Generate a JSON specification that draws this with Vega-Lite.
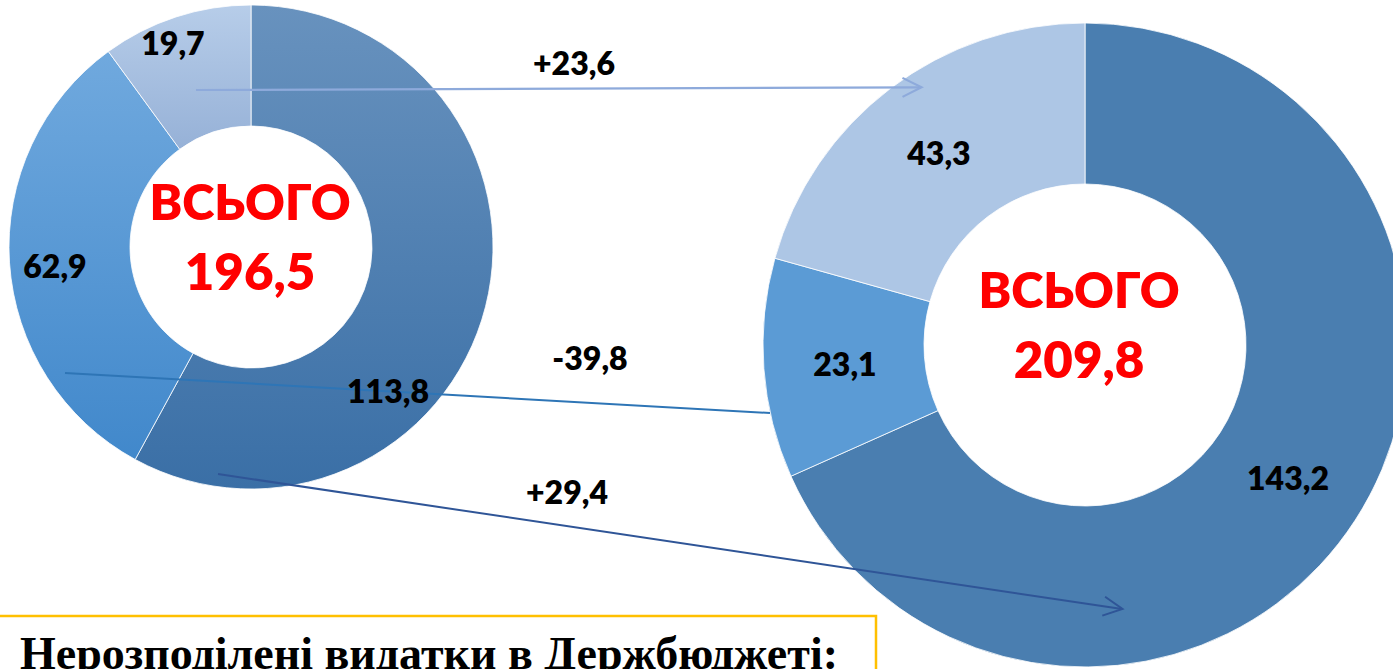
{
  "$schema": "https://vega.github.io/schema/vega-lite/v6.json",
  "width": 1393,
  "height": 669,
  "autosize": {"type": "none"},
  "padding": 0,
  "background": "white",
  "config": {
    "view": {"stroke": null},
    "locale": {"number": {"decimal": ",", "thousands": " ", "grouping": [3], "currency": ["", ""], "minus": "-"}}
  },
  "datasets": {
    "parts": [
      {"period": "before", "part": "A", "value": 113.8},
      {"period": "before", "part": "B", "value": 62.9},
      {"period": "before", "part": "C", "value": 19.7},
      {"period": "after", "part": "A", "value": 143.2},
      {"period": "after", "part": "B", "value": 23.1},
      {"period": "after", "part": "C", "value": 43.3}
    ],
    "totals": [
      {"period": "before", "total": 196.5},
      {"period": "after", "total": 209.8}
    ],
    "changes": [
      {"part": "C", "change": 23.6},
      {"part": "B", "change": -39.8},
      {"part": "A", "change": 29.4}
    ],
    "note": [{"text": "Нерозподілені видатки в Держбюджеті:"}]
  },
  "layer": [
    {
      "data": {"name": "parts"},
      "transform": [
        {"filter": "datum.period === 'before'"},
        {"stack": "value", "groupby": [], "offset": "normalize", "sort": [{"field": "part", "order": "ascending"}], "as": ["t0", "t1"]}
      ],
      "encoding": {
        "x": {"datum": 251, "type": "quantitative", "scale": {"domain": [0, 1393], "nice": false, "zero": false}, "axis": null},
        "y": {"datum": 247, "type": "quantitative", "scale": {"domain": [0, 669], "nice": false, "zero": false, "reverse": true}, "axis": null},
        "theta": {"field": "t0", "type": "quantitative", "scale": {"zero": true, "nice": false}},
        "theta2": {"field": "t1"}
      },
      "layer": [
        {
          "transform": [{"filter": "datum.part === 'A'"}],
          "mark": {"type": "arc", "radius": 242, "radius2": 121, "stroke": "white", "strokeWidth": 0.8,
            "fill": {"gradient": "linear", "x1": 0, "y1": 0, "x2": 0, "y2": 1, "stops": [{"offset": 0, "color": "#6892be"}, {"offset": 1, "color": "#3a6fa6"}]}}
        },
        {
          "transform": [{"filter": "datum.part === 'B'"}],
          "mark": {"type": "arc", "radius": 242, "radius2": 121, "stroke": "white", "strokeWidth": 0.8,
            "fill": {"gradient": "linear", "x1": 0, "y1": 0, "x2": 0, "y2": 1, "stops": [{"offset": 0, "color": "#70a9de"}, {"offset": 1, "color": "#4188cb"}]}}
        },
        {
          "transform": [{"filter": "datum.part === 'C'"}],
          "mark": {"type": "arc", "radius": 242, "radius2": 121, "stroke": "white", "strokeWidth": 0.8,
            "fill": {"gradient": "linear", "x1": 0, "y1": 0, "x2": 0, "y2": 1, "stops": [{"offset": 0, "color": "#b7cde9"}, {"offset": 1, "color": "#96b1d7"}]}}
        }
      ]
    },
    {
      "data": {"name": "parts"},
      "transform": [{"filter": "datum.period === 'after'"}],
      "mark": {"type": "arc", "radius": 322, "radius2": 161, "stroke": "white", "strokeWidth": 0.8},
      "encoding": {
        "x": {"datum": 1085, "type": "quantitative", "scale": {"domain": [0, 1393], "nice": false, "zero": false}, "axis": null},
        "y": {"datum": 345, "type": "quantitative", "scale": {"domain": [0, 669], "nice": false, "zero": false, "reverse": true}, "axis": null},
        "theta": {"field": "value", "type": "quantitative", "stack": "normalize"},
        "order": {"field": "part", "type": "ordinal", "sort": "ascending"},
        "color": {
          "field": "part", "type": "nominal", "legend": null,
          "scale": {"domain": ["A", "B", "C"], "range": ["#4a7eb0", "#5b9bd5", "#adc6e5"]}
        }
      }
    },
    {
      "data": {"name": "changes"},
      "transform": [{"filter": "datum.part === 'C'"}],
      "mark": {"type": "rule", "color": "#8eaadb", "strokeWidth": 2.2},
      "encoding": {
        "x": {"datum": 196, "type": "quantitative", "scale": {"domain": [0, 1393], "nice": false, "zero": false}, "axis": null},
        "y": {"datum": 90, "type": "quantitative", "scale": {"domain": [0, 669], "nice": false, "zero": false, "reverse": true}, "axis": null},
        "x2": {"datum": 921},
        "y2": {"datum": 87.3}
      }
    },
    {
      "data": {"name": "changes"},
      "transform": [{"filter": "datum.part === 'C'"}],
      "mark": {"type": "point", "shape": "M-2,-1L0,0L-2,1", "size": 361, "filled": false, "color": "#8eaadb", "strokeWidth": 2.2, "opacity": 1, "angle": -0.2},
      "encoding": {
        "x": {"datum": 921.5, "type": "quantitative", "scale": {"domain": [0, 1393], "nice": false, "zero": false}, "axis": null},
        "y": {"datum": 87.3, "type": "quantitative", "scale": {"domain": [0, 669], "nice": false, "zero": false, "reverse": true}, "axis": null}
      }
    },
    {
      "data": {"name": "changes"},
      "transform": [{"filter": "datum.part === 'B'"}],
      "mark": {"type": "rule", "color": "#2e75b6", "strokeWidth": 2},
      "encoding": {
        "x": {"datum": 65, "type": "quantitative", "scale": {"domain": [0, 1393], "nice": false, "zero": false}, "axis": null},
        "y": {"datum": 373, "type": "quantitative", "scale": {"domain": [0, 669], "nice": false, "zero": false, "reverse": true}, "axis": null},
        "x2": {"datum": 770},
        "y2": {"datum": 413}
      }
    },
    {
      "data": {"name": "changes"},
      "transform": [{"filter": "datum.part === 'A'"}],
      "mark": {"type": "rule", "color": "#2f5597", "strokeWidth": 2},
      "encoding": {
        "x": {"datum": 218, "type": "quantitative", "scale": {"domain": [0, 1393], "nice": false, "zero": false}, "axis": null},
        "y": {"datum": 474, "type": "quantitative", "scale": {"domain": [0, 669], "nice": false, "zero": false, "reverse": true}, "axis": null},
        "x2": {"datum": 1122},
        "y2": {"datum": 609}
      }
    },
    {
      "data": {"name": "changes"},
      "transform": [{"filter": "datum.part === 'A'"}],
      "mark": {"type": "point", "shape": "M-2,-1L0,0L-2,1", "size": 361, "filled": false, "color": "#2f5597", "strokeWidth": 2, "opacity": 1, "angle": 8.5},
      "encoding": {
        "x": {"datum": 1122.5, "type": "quantitative", "scale": {"domain": [0, 1393], "nice": false, "zero": false}, "axis": null},
        "y": {"datum": 609, "type": "quantitative", "scale": {"domain": [0, 669], "nice": false, "zero": false, "reverse": true}, "axis": null}
      }
    },
    {
      "data": {"name": "note"},
      "mark": {"type": "rect", "fill": "white", "stroke": "#ffc000", "strokeWidth": 2.5},
      "encoding": {
        "x": {"datum": -5, "type": "quantitative", "scale": {"domain": [0, 1393], "nice": false, "zero": false}, "axis": null},
        "y": {"datum": 616, "type": "quantitative", "scale": {"domain": [0, 669], "nice": false, "zero": false, "reverse": true}, "axis": null},
        "x2": {"datum": 876},
        "y2": {"datum": 720}
      }
    },
    {
      "data": {"name": "note"},
      "mark": {"type": "text", "align": "left", "baseline": "alphabetic", "font": "Liberation Serif", "fontWeight": "bold", "fontSize": 46, "color": "black"},
      "encoding": {
        "x": {"datum": 20, "type": "quantitative", "scale": {"domain": [0, 1393], "nice": false, "zero": false}, "axis": null},
        "y": {"datum": 669, "type": "quantitative", "scale": {"domain": [0, 669], "nice": false, "zero": false, "reverse": true}, "axis": null},
        "text": {"field": "text", "type": "nominal"}
      }
    },
    {
      "data": {"name": "parts"},
      "transform": [{"filter": "datum.period === 'before' && datum.part === 'C'"}],
      "mark": {"type": "text", "align": "center", "baseline": "alphabetic", "font": "Lato", "fontWeight": 800, "fontSize": 32, "color": "black"},
      "encoding": {
        "x": {"datum": 173, "type": "quantitative", "scale": {"domain": [0, 1393], "nice": false, "zero": false}, "axis": null},
        "y": {"datum": 55, "type": "quantitative", "scale": {"domain": [0, 669], "nice": false, "zero": false, "reverse": true}, "axis": null},
        "text": {"field": "value", "type": "quantitative", "format": ".1f"}
      }
    },
    {
      "data": {"name": "parts"},
      "transform": [{"filter": "datum.period === 'before' && datum.part === 'B'"}],
      "mark": {"type": "text", "align": "center", "baseline": "alphabetic", "font": "Lato", "fontWeight": 800, "fontSize": 32, "color": "black"},
      "encoding": {
        "x": {"datum": 55, "type": "quantitative", "scale": {"domain": [0, 1393], "nice": false, "zero": false}, "axis": null},
        "y": {"datum": 278, "type": "quantitative", "scale": {"domain": [0, 669], "nice": false, "zero": false, "reverse": true}, "axis": null},
        "text": {"field": "value", "type": "quantitative", "format": ".1f"}
      }
    },
    {
      "data": {"name": "parts"},
      "transform": [{"filter": "datum.period === 'before' && datum.part === 'A'"}],
      "mark": {"type": "text", "align": "center", "baseline": "alphabetic", "font": "Lato", "fontWeight": 800, "fontSize": 32, "color": "black"},
      "encoding": {
        "x": {"datum": 388, "type": "quantitative", "scale": {"domain": [0, 1393], "nice": false, "zero": false}, "axis": null},
        "y": {"datum": 403, "type": "quantitative", "scale": {"domain": [0, 669], "nice": false, "zero": false, "reverse": true}, "axis": null},
        "text": {"field": "value", "type": "quantitative", "format": ".1f"}
      }
    },
    {
      "data": {"name": "parts"},
      "transform": [{"filter": "datum.period === 'after' && datum.part === 'C'"}],
      "mark": {"type": "text", "align": "center", "baseline": "alphabetic", "font": "Lato", "fontWeight": 800, "fontSize": 32, "color": "black"},
      "encoding": {
        "x": {"datum": 939, "type": "quantitative", "scale": {"domain": [0, 1393], "nice": false, "zero": false}, "axis": null},
        "y": {"datum": 165, "type": "quantitative", "scale": {"domain": [0, 669], "nice": false, "zero": false, "reverse": true}, "axis": null},
        "text": {"field": "value", "type": "quantitative", "format": ".1f"}
      }
    },
    {
      "data": {"name": "parts"},
      "transform": [{"filter": "datum.period === 'after' && datum.part === 'B'"}],
      "mark": {"type": "text", "align": "center", "baseline": "alphabetic", "font": "Lato", "fontWeight": 800, "fontSize": 32, "color": "black"},
      "encoding": {
        "x": {"datum": 845, "type": "quantitative", "scale": {"domain": [0, 1393], "nice": false, "zero": false}, "axis": null},
        "y": {"datum": 376, "type": "quantitative", "scale": {"domain": [0, 669], "nice": false, "zero": false, "reverse": true}, "axis": null},
        "text": {"field": "value", "type": "quantitative", "format": ".1f"}
      }
    },
    {
      "data": {"name": "parts"},
      "transform": [{"filter": "datum.period === 'after' && datum.part === 'A'"}],
      "mark": {"type": "text", "align": "center", "baseline": "alphabetic", "font": "Lato", "fontWeight": 800, "fontSize": 32, "color": "black"},
      "encoding": {
        "x": {"datum": 1288, "type": "quantitative", "scale": {"domain": [0, 1393], "nice": false, "zero": false}, "axis": null},
        "y": {"datum": 490, "type": "quantitative", "scale": {"domain": [0, 669], "nice": false, "zero": false, "reverse": true}, "axis": null},
        "text": {"field": "value", "type": "quantitative", "format": ".1f"}
      }
    },
    {
      "data": {"name": "changes"},
      "transform": [{"filter": "datum.part === 'C'"}],
      "mark": {"type": "text", "align": "center", "baseline": "alphabetic", "font": "Lato", "fontWeight": 800, "fontSize": 32, "color": "black"},
      "encoding": {
        "x": {"datum": 574, "type": "quantitative", "scale": {"domain": [0, 1393], "nice": false, "zero": false}, "axis": null},
        "y": {"datum": 75, "type": "quantitative", "scale": {"domain": [0, 669], "nice": false, "zero": false, "reverse": true}, "axis": null},
        "text": {"field": "change", "type": "quantitative", "format": "+.1f"}
      }
    },
    {
      "data": {"name": "changes"},
      "transform": [{"filter": "datum.part === 'B'"}],
      "mark": {"type": "text", "align": "center", "baseline": "alphabetic", "font": "Lato", "fontWeight": 800, "fontSize": 32, "color": "black"},
      "encoding": {
        "x": {"datum": 590, "type": "quantitative", "scale": {"domain": [0, 1393], "nice": false, "zero": false}, "axis": null},
        "y": {"datum": 370, "type": "quantitative", "scale": {"domain": [0, 669], "nice": false, "zero": false, "reverse": true}, "axis": null},
        "text": {"field": "change", "type": "quantitative", "format": "+.1f"}
      }
    },
    {
      "data": {"name": "changes"},
      "transform": [{"filter": "datum.part === 'A'"}],
      "mark": {"type": "text", "align": "center", "baseline": "alphabetic", "font": "Lato", "fontWeight": 800, "fontSize": 32, "color": "black"},
      "encoding": {
        "x": {"datum": 567, "type": "quantitative", "scale": {"domain": [0, 1393], "nice": false, "zero": false}, "axis": null},
        "y": {"datum": 504, "type": "quantitative", "scale": {"domain": [0, 669], "nice": false, "zero": false, "reverse": true}, "axis": null},
        "text": {"field": "change", "type": "quantitative", "format": "+.1f"}
      }
    },
    {
      "data": {"name": "totals"},
      "transform": [{"filter": "datum.period === 'before'"}],
      "mark": {"type": "text", "text": "ВСЬОГО", "align": "center", "baseline": "alphabetic", "font": "Lato, Open Sans", "fontWeight": 800, "fontSize": 49, "color": "#ff0000"},
      "encoding": {
        "x": {"datum": 250, "type": "quantitative", "scale": {"domain": [0, 1393], "nice": false, "zero": false}, "axis": null},
        "y": {"datum": 220, "type": "quantitative", "scale": {"domain": [0, 669], "nice": false, "zero": false, "reverse": true}, "axis": null}
      }
    },
    {
      "data": {"name": "totals"},
      "transform": [{"filter": "datum.period === 'before'"}],
      "mark": {"type": "text", "align": "center", "baseline": "alphabetic", "font": "Lato", "fontWeight": 800, "fontSize": 51, "color": "#ff0000"},
      "encoding": {
        "x": {"datum": 250, "type": "quantitative", "scale": {"domain": [0, 1393], "nice": false, "zero": false}, "axis": null},
        "y": {"datum": 290, "type": "quantitative", "scale": {"domain": [0, 669], "nice": false, "zero": false, "reverse": true}, "axis": null},
        "text": {"field": "total", "type": "quantitative", "format": ".1f"}
      }
    },
    {
      "data": {"name": "totals"},
      "transform": [{"filter": "datum.period === 'after'"}],
      "mark": {"type": "text", "text": "ВСЬОГО", "align": "center", "baseline": "alphabetic", "font": "Lato, Open Sans", "fontWeight": 800, "fontSize": 49, "color": "#ff0000"},
      "encoding": {
        "x": {"datum": 1079, "type": "quantitative", "scale": {"domain": [0, 1393], "nice": false, "zero": false}, "axis": null},
        "y": {"datum": 308, "type": "quantitative", "scale": {"domain": [0, 669], "nice": false, "zero": false, "reverse": true}, "axis": null}
      }
    },
    {
      "data": {"name": "totals"},
      "transform": [{"filter": "datum.period === 'after'"}],
      "mark": {"type": "text", "align": "center", "baseline": "alphabetic", "font": "Lato", "fontWeight": 800, "fontSize": 51, "color": "#ff0000"},
      "encoding": {
        "x": {"datum": 1079, "type": "quantitative", "scale": {"domain": [0, 1393], "nice": false, "zero": false}, "axis": null},
        "y": {"datum": 378, "type": "quantitative", "scale": {"domain": [0, 669], "nice": false, "zero": false, "reverse": true}, "axis": null},
        "text": {"field": "total", "type": "quantitative", "format": ".1f"}
      }
    }
  ]
}
